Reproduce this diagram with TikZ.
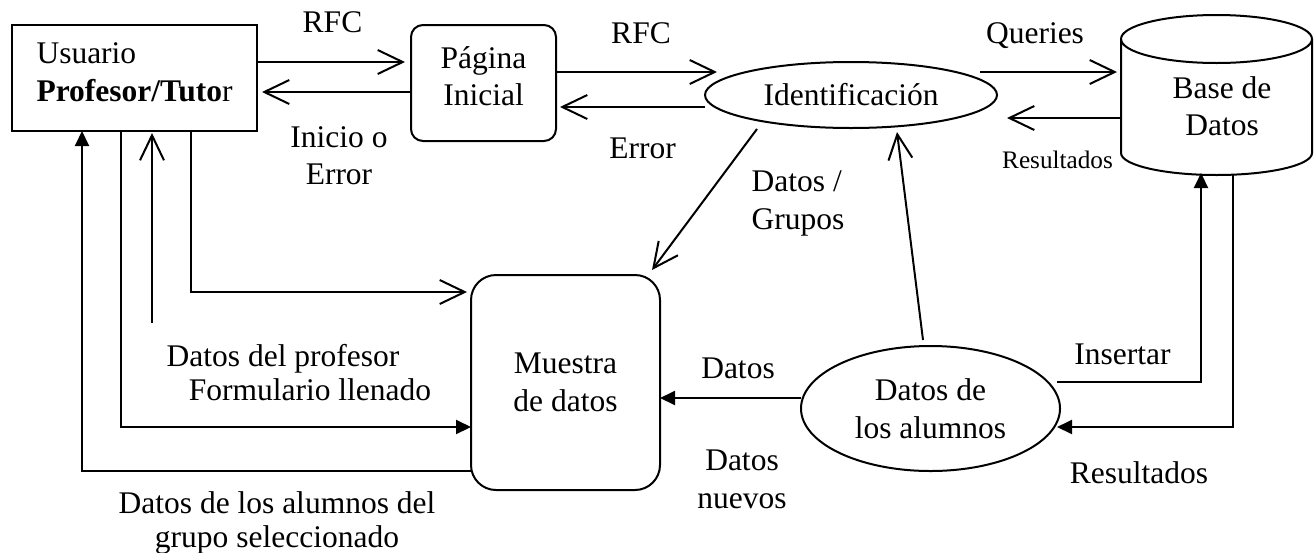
\documentclass[tikz,border=0pt]{standalone}
\usepackage{fontspec}
\setmainfont{Liberation Serif}
\usetikzlibrary{arrows.meta,shapes.geometric}
\begin{document}
\begin{tikzpicture}[x=0.5pt,y=-0.5pt,
  every node/.style={font=\fontsize{15.75}{18.75}\selectfont, inner sep=0pt, outer sep=0pt},
  ln/.style={line width=1pt},
  opn/.style={ln,-{Straight Barb[length=12.5pt,width=12pt]}},
  fil/.style={ln,-{Triangle[length=7.5pt,width=7pt]}},
  sqbox/.style={draw, line width=1pt, rectangle},
  rbox/.style={draw, line width=1pt, rectangle, rounded corners=#1},
  oval/.style={draw, line width=1pt, ellipse},
  lbl/.style={align=center},
  smalllbl/.style={font=\fontsize{12.6}{15}\selectfont}
]
\path[use as bounding box, fill=white] (0,0) rectangle (1315,552);

% ---------- nodes ----------
\node[sqbox, minimum width=122.5pt, minimum height=53pt, align=left] (usr) at (134.5,78)
  {Usuario\\\textbf{Profesor/Tuto}r\rule[-6pt]{0pt}{0pt}};
\node[rbox=6pt, minimum width=72.5pt, minimum height=58pt, align=center] (pag) at (483.5,83)
  {Página\\Inicial\rule[-7pt]{0pt}{0pt}};
\node[oval, minimum width=146pt, minimum height=33pt] (id) at (851,95) {Identificación};
\node[rbox=12.5pt, minimum width=94.5pt, minimum height=107.5pt, align=center] (mues) at (565.5,382.5)
  {Muestra\\de datos};
\node[oval, minimum width=129.5pt, minimum height=62.5pt, align=center] (alu) at (930.5,408.5)
  {Datos de\\los alumnos};

% database cylinder
\node[minimum width=95.5pt, minimum height=80.5pt] (db) at (1216.5,94.5) {};
\draw[ln] (1121,39) -- (1121,153) arc[start angle=180, end angle=0, x radius=95.5, y radius=22] -- (1312,39);
\draw[ln] (1216.5,39) ellipse [x radius=95.5, y radius=24];
\node[align=center] (dbt) at (1222,106) {Base de\\Datos};

% ---------- labels ----------
\node (rfcA) at (332.5,22.6) {RFC};
\node[lbl] (inicio) at (339,155.5) {Inicio o\\Error};
\node (rfcB) at (641,33) {RFC};
\node (err) at (642.5,148) {Error};
\node (qry) at (1035,35.3) {Queries};
\node[smalllbl] (resA) at (1057.5,159.5) {Resultados};
\node[align=left] (grp) at (798,203.4) {Datos /\\Grupos};
\node (dat) at (738,368.5) {Datos};
\node[lbl] (datn) at (742,479.3) {Datos\\nuevos};
\node (ins) at (1122.5,354.5) {Insertar};
\node (resB) at (1139,473.2) {Resultados};
\node (prof) at (283,358.7) {Datos del profesor};
\node (form) at (310,389.3) {Formulario llenado};
\node[align=center, font=\fontsize{15.75}{17}\selectfont] (sel) at (277,522.5) {Datos de los alumnos del\\grupo seleccionado};

% ---------- connectors ----------
\draw[opn, shorten >=3pt] (usr.east |- 0,62) -- (pag.west |- 0,62);
\draw[opn, shorten >=2.5pt] (pag.west |- 0,92) -- (usr.east |- 0,92);
\draw[opn] (pag.east |- 0,72) -- ([xshift=6pt]id.west |- 0,72);
\draw[opn, shorten >=2pt] (id.west |- 0,107) -- (pag.east |- 0,107);
\draw[opn, shorten >=2pt] ([xshift=-8.5pt]id.east |- 0,72) -- (db.west |- 0,72);
\draw[opn, shorten >=5pt] (db.west |- 0,118) -- (id.east |- 0,118);
\draw[opn] ([shift={(-94,34)}]id.center) -- ([shift={(-8,-5)}]mues.north east);
\draw[opn] ([shift={(-7.5,-6)}]alu.north) -- ([shift={(46,4)}]id.south);
\draw[fil] (alu.west |- 0,398) -- (mues.east |- 0,398);
\draw[fil, shorten >=-1pt] ([shift={(-3,-26.5)}]alu.east) -| ([xshift=-7.75pt]db.south);
\draw[fil, shorten >=-1.5pt] ([xshift=8.25pt]db.south) |- (alu.east |- 0,427);

% left side
\draw[fil] (mues.west |- 0,471) -| ([xshift=-26.25pt]usr.south);
\draw[fil] ([xshift=-6.75pt]usr.south) |- (mues.west |- 0,427);
\coordinate (cfree) at (152,323);
\draw[opn, shorten >=1pt] (cfree) -- (cfree |- usr.south);
\draw[opn, shorten >=2pt] ([xshift=28.25pt]usr.south) |- (mues.west |- 0,292);
\end{tikzpicture}
\end{document}
